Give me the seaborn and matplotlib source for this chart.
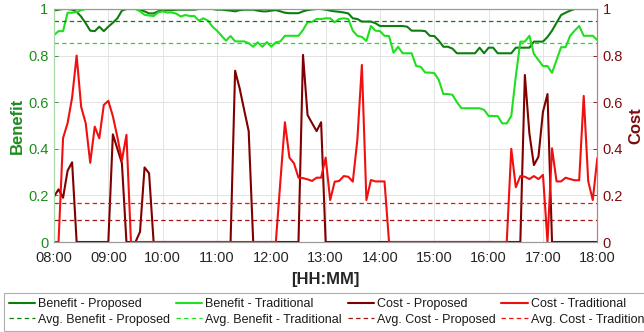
import numpy as np
import pandas as pd
import matplotlib
matplotlib.use("Agg")
import matplotlib.pyplot as plt
import seaborn as sns

# ---------------- data (5-minute samples, 08:00 .. 18:00) ----------------
tick_labels = ["08:00", "09:00", "10:00", "11:00", "12:00", "13:00",
               "14:00", "15:00", "16:00", "17:00", "18:00"]
y_tick_labels = ["0", "0.2", "0.4", "0.6", "0.8", "1"]
start_hour = 8
step_minutes = 5

benefit_proposed = [
    0.993, 0.997, 1.000, 1.000, 0.997, 0.988, 0.967, 0.939, 0.907, 0.905,
    0.924, 0.905, 0.924, 0.941, 0.960, 0.993, 1.000, 1.000, 1.000, 0.997,
    0.990, 0.981, 0.981, 0.990, 0.995, 0.995, 0.995, 0.997, 0.997, 0.997,
    0.997, 0.997, 1.000, 1.000, 1.000, 1.000, 0.997, 0.997, 0.995, 0.993,
    0.990, 0.995, 0.997, 0.997, 0.997, 0.993, 0.990, 0.990, 0.993, 0.995,
    0.990, 0.984, 0.982, 0.982, 0.982, 0.990, 0.995, 0.998, 1.000, 1.000,
    0.997, 0.993, 0.990, 0.988, 0.985, 0.981, 0.960, 0.957, 0.946, 0.946,
    0.946, 0.939, 0.927, 0.927, 0.927, 0.927, 0.927, 0.927, 0.924, 0.907,
    0.907, 0.907, 0.905, 0.885, 0.884, 0.864, 0.838, 0.838, 0.830, 0.810,
    0.810, 0.810, 0.810, 0.810, 0.834, 0.810, 0.834, 0.834, 0.810, 0.810,
    0.810, 0.810, 0.834, 0.834, 0.834, 0.834, 0.860, 0.860, 0.860, 0.880,
    0.907, 0.941, 0.974, 0.984, 0.993, 1.000, 1.000, 1.000, 1.000, 1.000,
    1.000,
]
benefit_traditional = [
    0.888, 0.905, 0.905, 0.984, 0.984, 0.987, 0.995, 1.000, 1.000, 1.000,
    1.000, 1.000, 1.000, 1.000, 1.000, 1.000, 1.000, 1.000, 1.000, 0.990,
    0.975, 0.972, 0.970, 0.985, 0.990, 0.985, 0.985, 0.980, 0.968, 0.974,
    0.970, 0.970, 0.950, 0.960, 0.950, 0.924, 0.907, 0.885, 0.864, 0.884,
    0.861, 0.861, 0.861, 0.853, 0.838, 0.857, 0.838, 0.858, 0.838, 0.857,
    0.861, 0.885, 0.885, 0.885, 0.885, 0.910, 0.943, 0.945, 0.957, 0.957,
    0.960, 0.960, 0.943, 0.957, 0.960, 0.957, 0.907, 0.885, 0.880, 0.863,
    0.927, 0.907, 0.905, 0.885, 0.884, 0.812, 0.838, 0.810, 0.810, 0.810,
    0.755, 0.752, 0.727, 0.727, 0.725, 0.695, 0.635, 0.635, 0.632, 0.600,
    0.574, 0.574, 0.574, 0.574, 0.574, 0.567, 0.541, 0.541, 0.540, 0.509,
    0.509, 0.541, 0.710, 0.860, 0.860, 0.885, 0.807, 0.781, 0.755, 0.755,
    0.726, 0.781, 0.836, 0.836, 0.885, 0.907, 0.927, 0.885, 0.885, 0.885,
    0.867,
]
cost_proposed = [
    0.195, 0.226, 0.190, 0.306, 0.342, 0.000, 0.000, 0.000, 0.000, 0.000,
    0.000, 0.000, 0.000, 0.462, 0.400, 0.338, 0.000, 0.000, 0.000, 0.044,
    0.320, 0.295, 0.000, 0.000, 0.000, 0.000, 0.000, 0.000, 0.000, 0.000,
    0.000, 0.000, 0.000, 0.000, 0.000, 0.000, 0.000, 0.000, 0.000, 0.000,
    0.735, 0.660, 0.567, 0.476, 0.000, 0.000, 0.000, 0.000, 0.000, 0.000,
    0.000, 0.000, 0.000, 0.000, 0.000, 0.803, 0.545, 0.510, 0.476, 0.514,
    0.000, 0.000, 0.000, 0.000, 0.000, 0.000, 0.000, 0.000, 0.000, 0.000,
    0.000, 0.000, 0.000, 0.000, 0.000, 0.000, 0.000, 0.000, 0.000, 0.000,
    0.000, 0.000, 0.000, 0.000, 0.000, 0.000, 0.000, 0.000, 0.000, 0.000,
    0.000, 0.000, 0.000, 0.000, 0.000, 0.000, 0.000, 0.000, 0.000, 0.000,
    0.000, 0.000, 0.000, 0.000, 0.717, 0.466, 0.330, 0.366, 0.559, 0.635,
    0.000, 0.000, 0.000, 0.000, 0.000, 0.000, 0.000, 0.000, 0.000, 0.000,
    0.000,
]
cost_traditional = [
    0.000, 0.000, 0.446, 0.510, 0.620, 0.800, 0.580, 0.510, 0.340, 0.495,
    0.445, 0.588, 0.606, 0.540, 0.450, 0.350, 0.460, 0.000, 0.000, 0.000,
    0.000, 0.000, 0.000, 0.000, 0.000, 0.000, 0.000, 0.000, 0.000, 0.000,
    0.000, 0.000, 0.000, 0.000, 0.000, 0.000, 0.000, 0.000, 0.000, 0.000,
    0.000, 0.000, 0.000, 0.000, 0.000, 0.000, 0.000, 0.000, 0.000, 0.000,
    0.260, 0.514, 0.362, 0.338, 0.276, 0.274, 0.269, 0.262, 0.276, 0.276,
    0.362, 0.180, 0.259, 0.262, 0.283, 0.280, 0.259, 0.438, 0.760, 0.180,
    0.266, 0.260, 0.260, 0.260, 0.000, 0.000, 0.000, 0.000, 0.000, 0.000,
    0.000, 0.000, 0.000, 0.000, 0.000, 0.000, 0.000, 0.000, 0.000, 0.000,
    0.000, 0.000, 0.000, 0.000, 0.000, 0.000, 0.000, 0.000, 0.000, 0.000,
    0.000, 0.400, 0.235, 0.283, 0.280, 0.270, 0.283, 0.270, 0.288, 0.000,
    0.402, 0.260, 0.260, 0.276, 0.270, 0.265, 0.265, 0.627, 0.260, 0.180,
    0.360,
]
avg_benefit_proposed = 0.948
avg_benefit_traditional = 0.854
avg_cost_proposed = 0.093
avg_cost_traditional = 0.167

labels = ["Benefit - Proposed", "Benefit - Traditional",
          "Cost - Proposed", "Cost - Traditional",
          "Avg. Benefit - Proposed", "Avg. Benefit - Traditional",
          "Avg. Cost - Proposed", "Avg. Cost - Traditional"]

# ---------------- styling ----------------
C_BP = "#0e7d10"
C_BT = "#1fe01f"
C_CP = "#800000"
C_CT = "#f01010"
C_LEFT = "#1f8c1f"
C_RIGHT = "#7d0c0c"

sns.set_theme(style="white")
plt.rcParams["font.family"] = ["Liberation Sans", "DejaVu Sans"]

n = len(benefit_proposed)
hours = start_hour + np.arange(n) * step_minutes / 60.0
df = pd.DataFrame({
    "hour": hours,
    "bp": benefit_proposed,
    "bt": benefit_traditional,
    "cp": cost_proposed,
    "ct": cost_traditional,
})

fig = plt.figure(figsize=(6.44, 3.32), dpi=100)
W, H = 644.0, 332.0
ax = fig.add_axes([54 / W, 1 - 242 / H, (597.3 - 54) / W, 233 / H])
ax2 = ax.twinx()

lw = 1.5
sns.lineplot(data=df, x="hour", y="bp", ax=ax, color=C_BP, linewidth=lw,
             label=labels[0], legend=False)
sns.lineplot(data=df, x="hour", y="bt", ax=ax, color=C_BT, linewidth=lw,
             label=labels[1], legend=False)
dash = (0, (3.5, 2.6))
h_abp = ax.axhline(avg_benefit_proposed, color=C_BP, lw=0.9, ls=dash,
                   label=labels[4])
h_abt = ax.axhline(avg_benefit_traditional, color=C_BT, lw=0.9, ls=dash,
                   label=labels[5])

sns.lineplot(data=df, x="hour", y="cp", ax=ax2, color=C_CP, linewidth=lw,
             label=labels[2], legend=False)
sns.lineplot(data=df, x="hour", y="ct", ax=ax2, color=C_CT, linewidth=lw,
             label=labels[3], legend=False)
h_acp = ax2.axhline(avg_cost_proposed, color="#a01515", lw=0.9, ls=dash,
                    label=labels[6])
h_act = ax2.axhline(avg_cost_traditional, color=C_CT, lw=0.9, ls=dash,
                    label=labels[7])

hour_ticks = np.arange(start_hour, start_hour + len(tick_labels))
for a in (ax, ax2):
    a.set_xlim(hours[0], hours[-1])
    a.set_ylim(0, 1)
    a.set_xlabel("")
    a.set_ylabel("")

ax.set_xticks(hour_ticks)
ax.set_xticklabels(tick_labels)
yt = [float(s) for s in y_tick_labels]
ax.set_yticks(yt)
ax.set_yticklabels(y_tick_labels)
ax2.set_yticks(yt)
ax2.set_yticklabels(y_tick_labels)

ax.grid(True, color="#e3e3e3", lw=0.7)
ax.set_axisbelow(True)

ax.tick_params(axis="x", direction="in", length=3, width=0.6,
               color="#8a8a8a", labelsize=10.5, labelcolor="#262626", pad=6.5)
ax.tick_params(axis="y", direction="in", length=3, width=0.6,
               color=C_LEFT, labelsize=10.5, labelcolor=C_LEFT, pad=4)
ax2.tick_params(axis="y", direction="in", length=3, width=0.6,
                color=C_RIGHT, labelsize=10.5, labelcolor=C_RIGHT, pad=4)

for a in (ax, ax2):
    for s in a.spines.values():
        s.set_linewidth(0.8)
    a.spines["top"].set_color("#9a9a9a")
    a.spines["bottom"].set_color("#9a9a9a")
    a.spines["left"].set_color("#a8d8a8")
    a.spines["right"].set_color("#c87878")

ax.set_xlabel("[HH:MM]", fontsize=12, fontweight="bold", color="#262626",
              labelpad=5)
ax.set_ylabel("Benefit", fontsize=12, fontweight="bold", color=C_LEFT,
              labelpad=2)
ax2.set_ylabel("Cost", fontsize=12, fontweight="bold", color=C_RIGHT,
               labelpad=4)

l_left = ax.get_lines()
l_right = ax2.get_lines()
bp_line, bt_line = l_left[0], l_left[1]
cp_line, ct_line = l_right[0], l_right[1]
handles = [bp_line, h_abp, bt_line, h_abt, cp_line, h_acp, ct_line, h_act]
leg_labels = [labels[0], labels[4], labels[1], labels[5],
              labels[2], labels[6], labels[3], labels[7]]
leg = fig.legend(handles, leg_labels, ncol=4, loc="upper left",
                 bbox_to_anchor=(4 / W, 1 - 293 / H),
                 fontsize=9, frameon=True, fancybox=False,
                 handlelength=2.1, handletextpad=0.25, columnspacing=0.45,
                 labelspacing=0.3, borderpad=0.4, borderaxespad=0.0)
leg.get_frame().set_edgecolor("#9a9a9a")
leg.get_frame().set_linewidth(0.8)
for t in leg.get_texts():
    t.set_color("#1a1a1a")

fig.savefig("out.png", dpi=100, facecolor="white")
